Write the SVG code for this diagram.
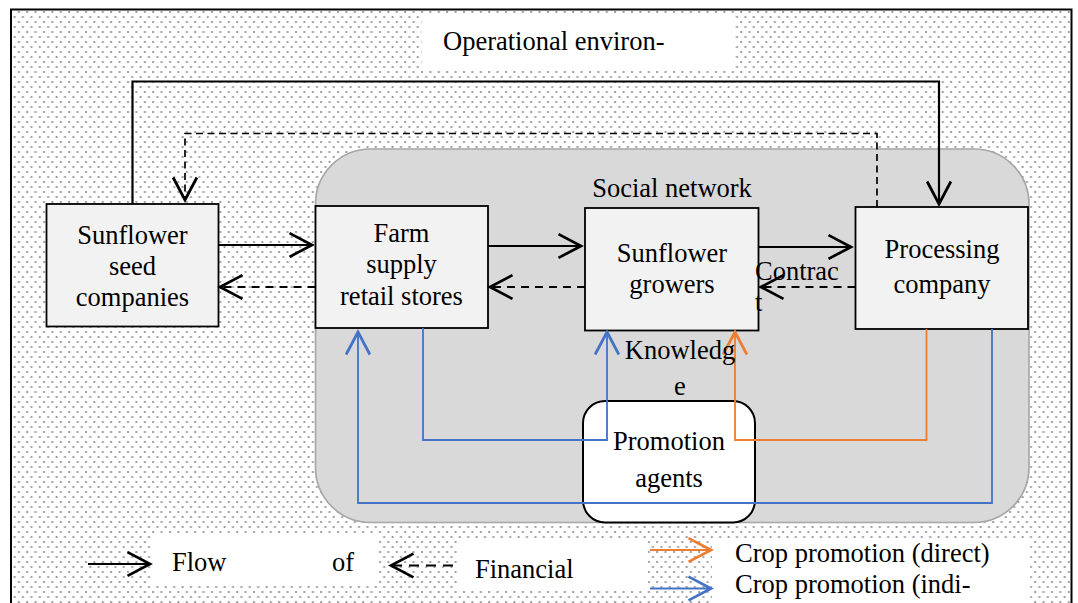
<svg xmlns="http://www.w3.org/2000/svg" width="1078" height="603" viewBox="0 0 1078 603">
<style>
text{font-family:"Liberation Serif","Times New Roman",serif;font-size:26.5px;fill:#000}
.c{text-anchor:middle}
.box{fill:#f2f2f2;stroke:#000;stroke-width:1.8}
.blk{fill:none;stroke:#000;stroke-width:2.2}
.dash{fill:none;stroke:#000;stroke-width:2.2;stroke-dasharray:8 6}
.dash2{fill:none;stroke:#000;stroke-width:1.7;stroke-dasharray:7 4.5}
.blue{fill:none;stroke:#4472c4;stroke-width:1.8}
.orange{fill:none;stroke:#ed7d31;stroke-width:1.8}
.wh{fill:#fff}
</style>
<defs>
<pattern id="dots" x="0" y="0" width="8.4" height="10" patternUnits="userSpaceOnUse">
<rect x="1" y="1" width="2" height="2" fill="#a0a0a0"/>
<rect x="5.2" y="6" width="2" height="2" fill="#a0a0a0"/>
</pattern>
<marker id="ak" markerUnits="userSpaceOnUse" markerWidth="30" markerHeight="30" viewBox="-20 -12 24 24" refX="0" refY="0" orient="auto">
<path d="M-18,-9.5 L0,0 L-18,9.5" fill="none" stroke="#000" stroke-width="2.2"/>
</marker>
<marker id="ab" markerUnits="userSpaceOnUse" markerWidth="30" markerHeight="30" viewBox="-20 -12 24 24" refX="0" refY="0" orient="auto">
<path d="M-18,-9.5 L0,0 L-18,9.5" fill="none" stroke="#4472c4" stroke-width="2.2"/>
</marker>
<marker id="ao" markerUnits="userSpaceOnUse" markerWidth="30" markerHeight="30" viewBox="-20 -12 24 24" refX="0" refY="0" orient="auto">
<path d="M-18,-9.5 L0,0 L-18,9.5" fill="none" stroke="#ed7d31" stroke-width="2.2"/>
</marker>
</defs>

<g id="background">
<rect x="0" y="0" width="1078" height="603" fill="#fff"/>
<rect x="11" y="9.5" width="1060.5" height="620" fill="url(#dots)"/>
<rect x="11" y="9.5" width="1060.5" height="620" fill="none" stroke="#000" stroke-width="2"/>
<rect class="wh" x="421.5" y="16" width="313" height="52"/>
<rect class="wh" x="151" y="535" width="228" height="49"/>
<rect class="wh" x="458" y="541" width="190" height="49"/>
<rect class="wh" x="712" y="541" width="318" height="62"/>
<text x="443" y="50">Operational environ-</text>
</g>

<g id="social-network">
<rect x="315.5" y="149" width="713.5" height="373.5" rx="55" ry="55" fill="#d9d9d9" stroke="#a6a6a6" stroke-width="1.6"/>
<text class="c" x="672" y="197">Social network</text>
</g>

<g id="seed-companies">
<rect class="box" x="46.5" y="204" width="172" height="122.5"/>
<text class="c" x="132.5" y="243.5">Sunflower</text>
<text class="c" x="132.5" y="274.5">seed</text>
<text class="c" x="132.5" y="305.5">companies</text>
</g>

<g id="farm-supply">
<rect class="box" x="315.5" y="206" width="172.5" height="122"/>
<text class="c" x="401.5" y="242">Farm</text>
<text class="c" x="401.5" y="273">supply</text>
<text class="c" x="401.5" y="304.5">retail stores</text>
</g>

<g id="growers">
<rect class="box" x="585" y="208" width="173.5" height="122.5"/>
<text class="c" x="672" y="262">Sunflower</text>
<text class="c" x="672" y="293">growers</text>
</g>

<g id="processing">
<rect class="box" x="855.5" y="207" width="172.5" height="122"/>
<text class="c" x="942" y="257.5">Processing</text>
<text class="c" x="942" y="292.5">company</text>
</g>

<g id="promotion-agents">
<rect x="583" y="401" width="172" height="121.5" rx="22" ry="22" fill="#fff" stroke="#000" stroke-width="2"/>
<text class="c" x="669" y="450">Promotion</text>
<text class="c" x="669" y="487">agents</text>
</g>

<g id="connectors">
<path class="blk" d="M132.5,204 V81.5 H939 V204" marker-end="url(#ak)"/>
<path class="dash2" d="M877,207 V133.5 H185 V200" marker-end="url(#ak)"/>
<path class="blk" d="M218.5,245 H312" marker-end="url(#ak)"/>
<path class="dash" d="M315.5,287 H220" marker-end="url(#ak)"/>
<path class="blk" d="M488,246 H581" marker-end="url(#ak)"/>
<path class="dash" d="M585,287 H490" marker-end="url(#ak)"/>
<path class="blk" d="M758.5,247 H851" marker-end="url(#ak)"/>
<path class="dash" d="M855.5,287 H761" marker-end="url(#ak)"/>
<path class="blue" d="M423,328 V440 H607 V332" marker-end="url(#ab)"/>
<path class="blue" d="M992,329 V503 H358 V332" marker-end="url(#ab)"/>
<path class="orange" d="M926.5,329 V440 H735 V332" marker-end="url(#ao)"/>
<text x="755" y="280">Contrac</text>
<text x="755" y="311">t</text>
<text class="c" x="680" y="359">Knowledg</text>
<text class="c" x="680" y="395">e</text>
</g>

<g id="legend">
<path class="blk" d="M88,564 H150" marker-end="url(#ak)"/>
<text x="172" y="571">Flow</text>
<text x="332" y="571">of</text>
<path class="blk" d="M453,565.5 H391" style="stroke-dasharray:10 7" marker-end="url(#ak)"/>
<text x="475" y="577.5">Financial</text>
<path class="orange" d="M650,550 H711" marker-end="url(#ao)"/>
<path class="blue" d="M650,588.5 H711" marker-end="url(#ab)"/>
<text x="735" y="562">Crop promotion (direct)</text>
<text x="735" y="592.5">Crop promotion (indi-</text>
</g>
</svg>
